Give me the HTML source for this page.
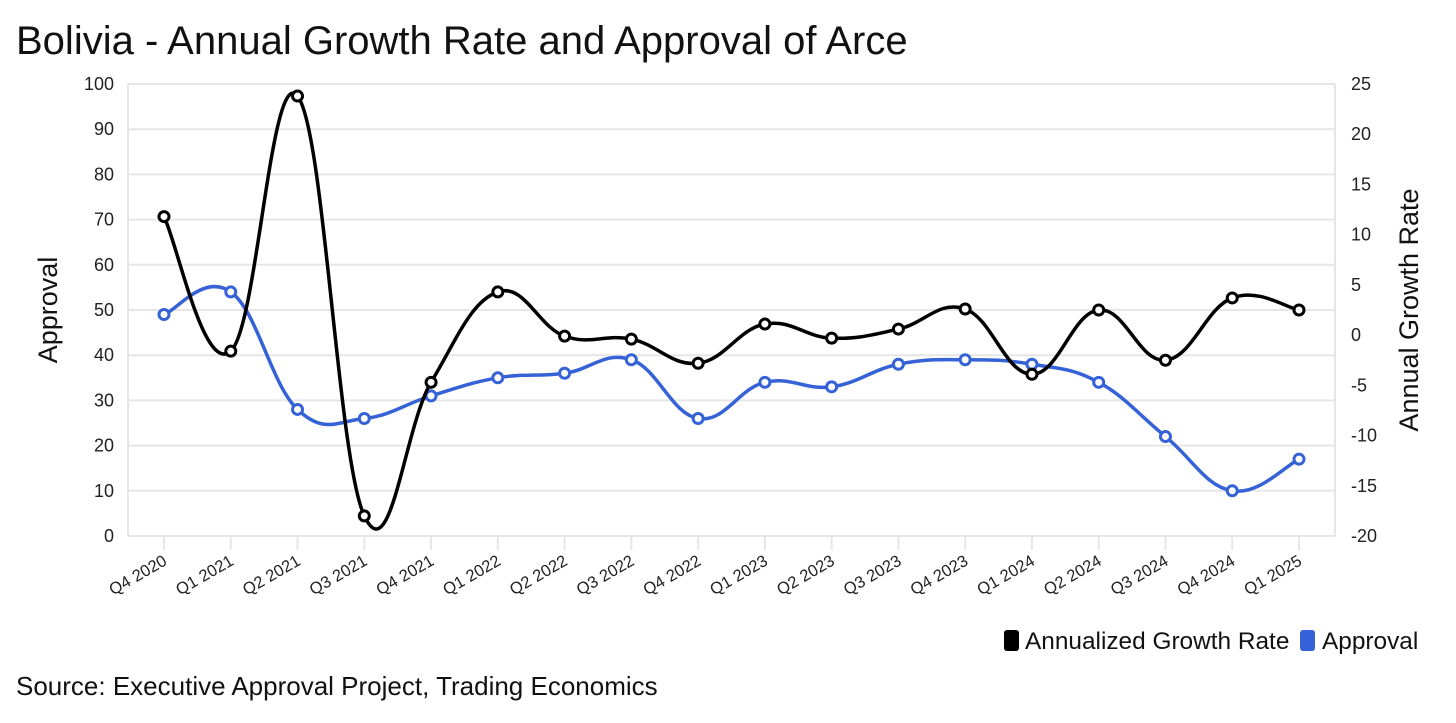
<!DOCTYPE html>
<html><head><meta charset="utf-8"><style>
body{margin:0;background:#fff;width:1456px;height:718px;overflow:hidden;font-family:"Liberation Sans",sans-serif}
</style></head><body>
<svg id="c" width="1456" height="718" xmlns="http://www.w3.org/2000/svg" font-family="Liberation Sans, sans-serif">
<text x="16" y="54" font-size="40" fill="#111">Bolivia - Annual Growth Rate and Approval of Arce</text>
<text transform="translate(57,310) rotate(-90)" text-anchor="middle" font-size="27" fill="#111">Approval</text>
<text transform="translate(1418,310) rotate(-90)" text-anchor="middle" font-size="27" fill="#111">Annual Growth Rate</text>
<g id="grid"></g><g id="lines"></g>
<g>
<rect x="1004" y="630" width="15" height="21" rx="3" fill="#000"/>
<text x="1025" y="649" font-size="24.4" fill="#111">Annualized Growth Rate</text>
<rect x="1300" y="630" width="15" height="21" rx="3" fill="#3562d6"/>
<text x="1322" y="649" font-size="24.4" fill="#111">Approval</text>
</g>
<text x="16" y="695" font-size="26" fill="#111">Source: Executive Approval Project, Trading Economics</text>
</svg>
<script>
const categories=["Q4 2020","Q1 2021","Q2 2021","Q3 2021","Q4 2021","Q1 2022","Q2 2022","Q3 2022","Q4 2022","Q1 2023","Q2 2023","Q3 2023","Q4 2023","Q1 2024","Q2 2024","Q3 2024","Q4 2024","Q1 2025"];
const approval=[49,54,28,26,31,35,36,39,26,34,33,38,39,38,34,22,10,17];
const growth=[11.8,-1.6,23.8,-18.0,-4.7,4.3,-0.1,-0.4,-2.8,1.1,-0.3,0.6,2.6,-3.9,2.5,-2.5,3.7,2.5];
const leftTicks=[0,10,20,30,40,50,60,70,80,90,100];
const rightTicks=[-20,-15,-10,-5,0,5,10,15,20,25];
const L=128,R=1335,T=84,B=536,NS="http://www.w3.org/2000/svg";
const x=i=>164+i*(1299-164)/(categories.length-1);
const yL=v=>B-(v/100)*(B-T);
const yR=v=>B-((v+20)/45)*(B-T);
function mk(t,a,p){const e=document.createElementNS(NS,t);for(const k in a)e.setAttribute(k,a[k]);p.appendChild(e);return e;}
const g=document.getElementById('grid'),ln=document.getElementById('lines');
leftTicks.forEach(v=>{const l=mk('line',{x1:L,x2:R,y1:yL(v),y2:yL(v),stroke:'#e6e6e6','stroke-width':2},g);


const t=mk('text',{x:L-14,y:yL(v)+6,'text-anchor':'end','font-size':18,fill:'#222'},g);t.textContent=v;

});
rightTicks.forEach(v=>{const t=mk('text',{x:R+16,y:yR(v)+6,'font-size':18,fill:'#222'},g);t.textContent=v;

});
[L,R].forEach(xx=>{const l=mk('line',{x1:xx,x2:xx,y1:T,y2:B,stroke:'#e6e6e6','stroke-width':2},g);

});
categories.forEach((c,i)=>{const l=mk('line',{x1:x(i),x2:x(i),y1:B,y2:B+14,stroke:'#e6e6e6','stroke-width':2},g);


const t=mk('text',{transform:`translate(${x(i)+4},${B+28}) rotate(-30)`,'text-anchor':'end','font-size':16.5,fill:'#222'},g);t.textContent=c;

});
function path(pts){let d=`M${pts[0][0]},${pts[0][1]}`;const k=0.2;
for(let i=0;i<pts.length-1;i++){const p0=pts[Math.max(0,i-1)],p1=pts[i],p2=pts[i+1],p3=pts[Math.min(pts.length-1,i+2)];
d+=` C${p1[0]+(p2[0]-p0[0])*k},${p1[1]+(p2[1]-p0[1])*k} ${p2[0]-(p3[0]-p1[0])*k},${p2[1]-(p3[1]-p1[1])*k} ${p2[0]},${p2[1]}`;}return d;}
function series(vals,yf,col,name){const pts=vals.map((v,i)=>[x(i),yf(v)]);
const p=mk('path',{d:path(pts),fill:'none',stroke:col,'stroke-width':3.5},ln);


pts.forEach(q=>{const c=mk('circle',{cx:q[0],cy:q[1],r:5,fill:'#fff',stroke:col,'stroke-width':3},ln);

});}
series(approval,yL,'#3562d6','approval');
series(growth,yR,'#000','growth');
</script>
</body></html>
